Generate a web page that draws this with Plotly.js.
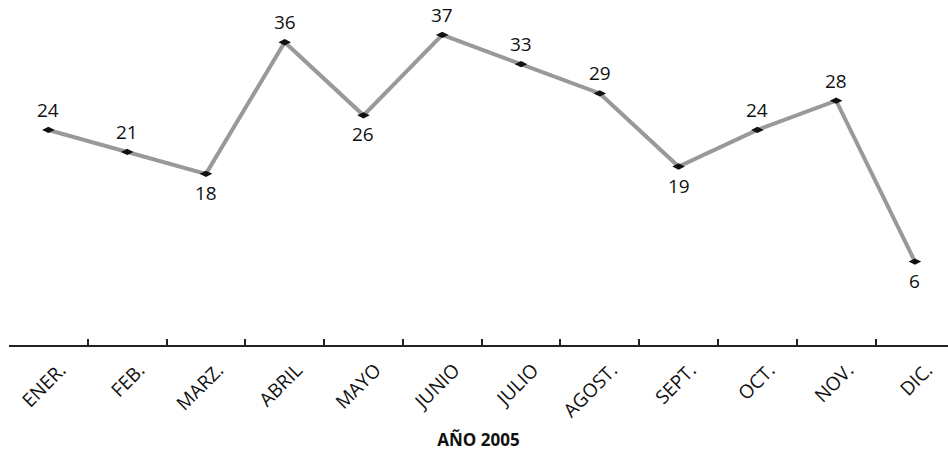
<!DOCTYPE html>
<html><head><meta charset="utf-8">
<script src="https://cdn.plot.ly/plotly-3.0.1.min.js"></script>
<style>html,body{margin:0;padding:0;background:#fff}</style>
</head><body><div id="chart" style="width:948px;height:453px"></div>
<script>
const months = ["ENER.","FEB.","MARZ.","ABRIL","MAYO","JUNIO","JULIO","AGOST.","SEPT.","OCT.","NOV.","DIC."];
const values = [24,21,18,36,26,37,33,29,19,24,28,6];
const labelBelow = [false,false,true,false,true,false,false,false,true,false,false,true];

const FONT = "Open Sans, sans-serif";
const trace = {
  x: months, y: values, type: "scatter", mode: "lines+markers",
  line: {color: "#999999", width: 4},
  marker: {symbol: "diamond-wide", size: 9, color: "#111"},
  cliponaxis: false, hoverinfo: "none"
};
const annotations = values.map((v, i) => ({
  x: months[i], y: v, xref: "x", yref: "y",
  text: String(v), showarrow: false,
  yshift: labelBelow[i] ? -19 : 20,
  font: {family: FONT, size: 19, color: "#111"}
}));
const layout = {
  width: 948, height: 453,
  margin: {l: 9, r: 0, t: 0, b: 108},
  paper_bgcolor: "#fff", plot_bgcolor: "#fff",
  showlegend: false,
  font: {family: FONT, color: "#111"},
  annotations: annotations,
  xaxis: {
    type: "category", range: [-0.5, 11.42],
    showline: true, linecolor: "#222", linewidth: 1.5,
    ticks: "inside", tickson: "boundaries", ticklen: 6, tickwidth: 2, tickcolor: "#222",
    tickangle: -45, tickfont: {size: 19, family: FONT, color: "#111"},
    ticklabelstandoff: 5, ticklabelshift: 12,
    showgrid: false, zeroline: false,
    title: {text: "<b>AÑO 2005</b>", font: {size: 17, family: FONT, color: "#111"}, standoff: 12}
  },
  yaxis: {range: [-5.42, 41.78], visible: false, showgrid: false, zeroline: false}
};
Plotly.newPlot("chart", [trace], layout, {displayModeBar: false, staticPlot: true});
</script></body></html>
